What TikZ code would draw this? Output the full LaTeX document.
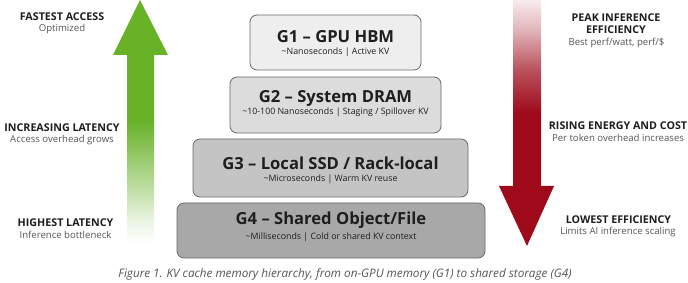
\documentclass[tikz,border=0pt]{standalone}
\usepackage{fontspec}
\setmainfont{Open Sans}
\definecolor{nvgreen}{RGB}{104,178,40}
\definecolor{nvred}{RGB}{158,10,26}
\definecolor{headc}{RGB}{30,30,30}
\definecolor{subc}{RGB}{85,85,85}
\definecolor{bord}{RGB}{105,105,105}
\definecolor{fillA}{RGB}{238,238,238}
\definecolor{fillB}{RGB}{220,220,220}
\definecolor{fillC}{RGB}{196,196,196}
\definecolor{fillD}{RGB}{168,168,168}
\newcommand{\tld}{\symbol{"7E}}
\pgfdeclareverticalshading{greenfade}{100bp}{color(0bp)=(white); color(25bp)=(white); color(30bp)=(nvgreen!15); color(38bp)=(nvgreen!50); color(50bp)=(nvgreen); color(100bp)=(nvgreen)}
\pgfdeclareverticalshading{redfade}{100bp}{color(0bp)=(nvred); color(52bp)=(nvred); color(61bp)=(nvred!70); color(69bp)=(nvred!30); color(75bp)=(white!92!nvred); color(100bp)=(white)}
\tikzset{
  tier/.style={draw=bord, line width=0.8pt, rounded corners=7pt, inner sep=0pt},
  tiertitle/.style={anchor=base, inner sep=0pt, text=headc, font=\bfseries\fontsize{16.6}{18}\selectfont},
  tiersub/.style={anchor=base, inner sep=0pt, text=headc, font=\fontsize{8.8}{10}\selectfont},
  sidehead/.style={anchor=base, inner sep=0pt, text=headc, font=\bfseries\fontsize{10.7}{12}\selectfont},
  sidesub/.style={anchor=base, inner sep=0pt, text=subc, font=\fontsize{9.6}{11}\selectfont},
  captionstyle/.style={anchor=base, inner sep=0pt, text=subc, font=\itshape\fontsize{11.7}{13}\selectfont}
}
\begin{document}
\begin{tikzpicture}[x=1pt,y=-1pt]
\useasboundingbox (0,0) rectangle (688,283);
% green arrow (up)
\shade[shading=greenfade] (140,0) -- (168,55) -- (154,55) -- (154,243) -- (127,243) -- (127,55) -- (113,55) -- cycle;
% red arrow (down)
\shade[shading=redfade] (513,0) -- (541,0) -- (541,186) -- (554,186) -- (527,246) -- (499,186) -- (513,186) -- cycle;
% tiers
\node[tier, fill=fillA, minimum width=171pt, minimum height=55pt] (g1) at (335.5,42.5) {};
\node[tier, fill=fillB, minimum width=211pt, minimum height=56pt] (g2) at (335.5,105) {};
\node[tier, fill=fillC, minimum width=275pt, minimum height=58pt] (g3) at (330.5,168) {};
\node[tier, fill=fillD, minimum width=308pt, minimum height=55pt] (g4) at (331,230.5) {};
\node[tiertitle] (g1t) at (335.5,43) {G1 – GPU HBM};
\node[tiersub] (g1s) at (335.5,55) {\tld Nanoseconds | Active KV};
\node[tiertitle] (g2t) at (335.5,103) {G2 – System DRAM};
\node[tiersub] (g2s) at (335.5,114.5) {\tld 10-100 Nanoseconds | Staging / Spillover KV};
\node[tiertitle] (g3t) at (330.5,170) {G3 – Local SSD / Rack-local};
\node[tiersub] (g3s) at (330.5,181.5) {\tld Microseconds | Warm KV reuse};
\node[tiertitle] (g4t) at (331,225) {G4 – Shared Object/File};
\node[tiersub] (g4s) at (331,240) {\tld Milliseconds | Cold or shared KV context};
% left labels
\node[sidehead] (l1) at (62,21) {FASTEST ACCESS};
\node[sidesub] (l1s) at (62,32) {Optimized};
\node[sidehead] (l2) at (62,131.5) {INCREASING LATENCY};
\node[sidesub] (l2s) at (62,143) {Access overhead grows};
\node[sidehead] (l3) at (65.5,227) {HIGHEST LATENCY};
\node[sidesub] (l3s) at (65.5,239) {Inference bottleneck};
% right labels
\node[sidehead] (r1) at (616,22) {PEAK INFERENCE};
\node[sidehead] (r1b) at (616,34) {EFFICIENCY};
\node[sidesub] (r1s) at (616.5,46) {Best perf/watt, perf/\$};
\node[sidehead] (r2) at (618,130) {RISING ENERGY AND COST};
\node[sidesub] (r2s) at (618,142) {Per token overhead increases};
\node[sidehead] (r3) at (618.5,223) {LOWEST EFFICIENCY};
\node[sidesub] (r3s) at (618,235) {Limits AI inference scaling};
% caption
\node[captionstyle] (cap) at (345,277) {Figure 1. KV cache memory hierarchy, from on-GPU memory (G1) to shared storage (G4)};
\end{tikzpicture}
\end{document}
